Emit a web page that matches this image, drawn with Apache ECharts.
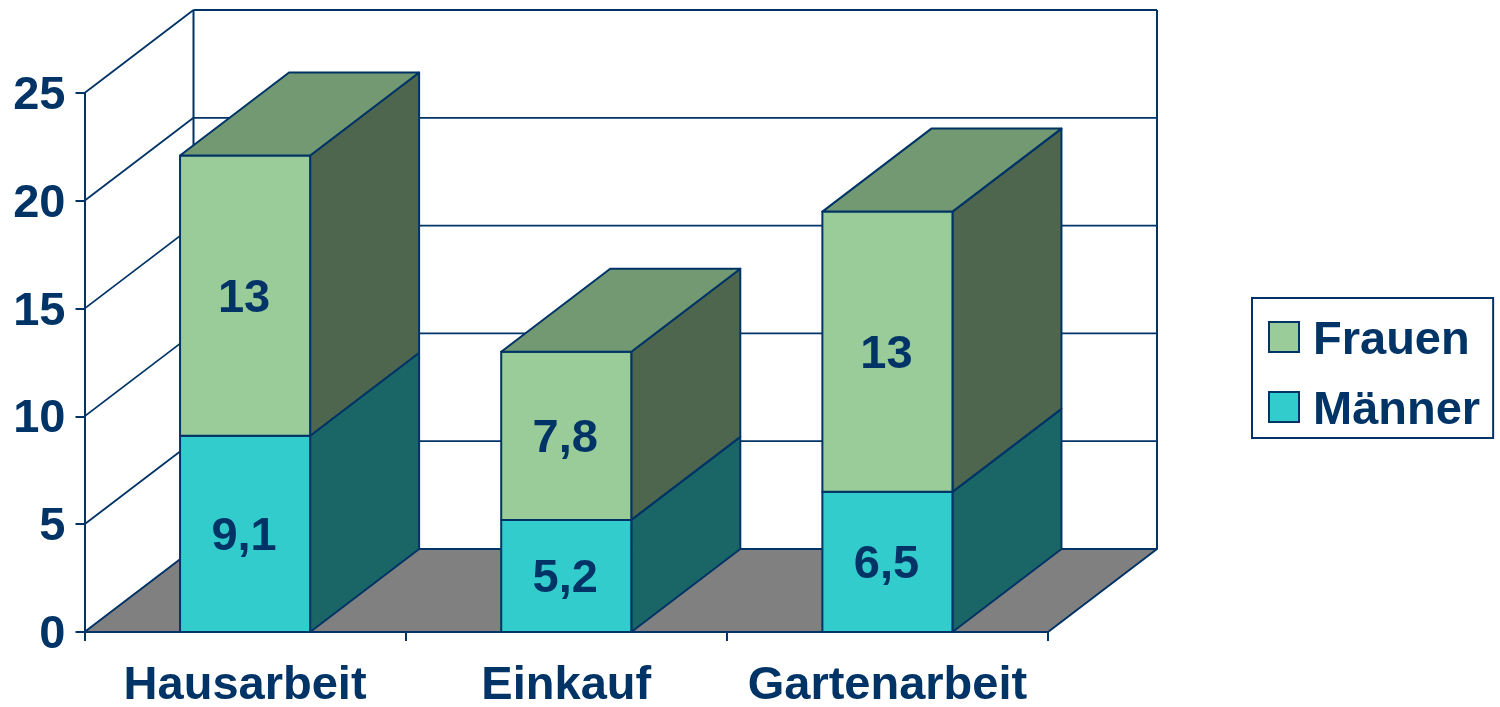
<!DOCTYPE html>
<html>
<head>
<meta charset="utf-8">
<style>
  html, body { margin: 0; padding: 0; background: #fff; }
  #chart { width: 1500px; height: 707px; }
</style>
<script src="https://cdn.jsdelivr.net/npm/echarts@6/dist/echarts.min.js"></script>
</head>
<body>
<div id="chart"></div>
<script>
const categories = ['Hausarbeit', 'Einkauf', 'Gartenarbeit'];
const maennerValues = [9.1, 5.2, 6.5];
const frauenValues = [13, 7.8, 13];
const yTicks = [0, 5, 10, 15, 20, 25];

const navy = '#003366';
const fontFamily = '"Liberation Sans", Arial, sans-serif';
// offset of the back plane, in pixels
const depthX = 109;
const depthY = 83;
const barRatio = 0.405;

const chart = echarts.init(document.getElementById('chart'));

function poly(points, fill, lineWidth) {
  return {
    type: 'polygon',
    shape: { points: points },
    style: { fill: fill, stroke: navy, lineWidth: lineWidth || 2, lineJoin: 'round' }
  };
}

function line(x1, y1, x2, y2, width) {
  return {
    type: 'line',
    shape: { x1: x1, y1: y1, x2: x2, y2: y2 },
    style: { stroke: navy, lineWidth: width, fill: null }
  };
}

// floor, walls and gridlines
function renderFrame(params, api) {
  const cs = params.coordSys;
  const left = cs.x;
  const right = cs.x + cs.width;
  const y = api.coord([0, api.value(0)])[1];
  const children = [];
  if (api.value(0) === 0) {
    children.push(poly([
      [left, y], [left + depthX, y - depthY],
      [right + depthX, y - depthY], [right, y]
    ], '#808080'));
    children.push(line(left + depthX, y - depthY, left + depthX, cs.y - depthY, 2));
    children.push(line(right + depthX, y - depthY, right + depthX, cs.y - depthY, 2));
  }
  if (api.value(0) !== 0) {
    children.push(line(left, y, left + depthX, y - depthY, 1.8));
    children.push(line(left + depthX, y - depthY, right + depthX, y - depthY, 1.8));
  }
  return { type: 'group', children: children };
}

function makeBarRenderer(front, side, top) {
  return function (params, api) {
    const bottomPt = api.coord([api.value(0), api.value(1)]);
    const topPt = api.coord([api.value(0), api.value(2)]);
    const w = api.size([1, 0])[0] * barRatio;
    const x0 = bottomPt[0] - w / 2;
    const x1 = bottomPt[0] + w / 2;
    const yb = bottomPt[1];
    const yt = topPt[1];
    const children = [
      poly([[x1, yb], [x1 + depthX, yb - depthY], [x1 + depthX, yt - depthY], [x1, yt]], side),
      poly([[x0, yb], [x1, yb], [x1, yt], [x0, yt]], front)
    ];
    if (top) {
      children.push(poly([[x0, yt], [x1, yt], [x1 + depthX, yt - depthY], [x0 + depthX, yt - depthY]], top));
    }
    children.push({
      type: 'text',
      style: {
        x: bottomPt[0] - 1,
        y: (yb + yt) / 2 + 3,
        text: String(api.value(3)).replace('.', ','),
        fill: navy,
        font: 'bold 47px ' + fontFamily,
        align: 'center',
        verticalAlign: 'middle'
      }
    });
    return { type: 'group', children: children };
  };
}

const labelFont = {
  color: navy,
  fontFamily: fontFamily,
  fontWeight: 'bold',
  fontSize: 47
};

const option = {
  animation: false,
  backgroundColor: '#fff',
  grid: { left: 84.5, right: 452, top: 93, bottom: 75, outerBoundsMode: 'none' },
  legend: {
    data: ['Frauen', 'Männer'],
    orient: 'vertical',
    left: 1252,
    top: 298,
    padding: [19.5, 13, 3.5, 16],
    itemGap: 23,
    itemWidth: 30,
    itemHeight: 30,
    icon: 'rect',
    borderColor: navy,
    borderWidth: 2,
    backgroundColor: '#fff',
    formatter: '{a|{name}}',
    textStyle: {
      ...labelFont,
      rich: { a: { ...labelFont, padding: [8, 0, 0, 9] } }
    }
  },
  xAxis: {
    type: 'category',
    data: categories,
    axisLine: { lineStyle: { color: navy, width: 2 } },
    axisTick: { show: true, interval: 0, length: 9, lineStyle: { color: navy, width: 2 } },
    axisLabel: { ...labelFont, interval: 0, margin: 31 }
  },
  yAxis: {
    type: 'value',
    min: 0,
    max: 25,
    interval: 5,
    splitLine: { show: false },
    axisLine: { show: true, lineStyle: { color: navy, width: 2 } },
    axisTick: { show: true, length: 9, lineStyle: { color: navy, width: 2 } },
    axisLabel: {
      ...labelFont,
      margin: 19,
      formatter: '{a|{value}}',
      rich: { a: { ...labelFont, padding: [6, 0, 0, 0] } }
    }
  },
  series: [
    {
      name: 'frame',
      type: 'custom',
      z: 1,
      silent: true,
      renderItem: renderFrame,
      encode: { y: 0 },
      data: yTicks.map(function (t) { return [t]; })
    },
    {
      name: 'Männer',
      type: 'custom',
      z: 2,
      itemStyle: { color: '#33CCCC', borderColor: navy, borderWidth: 2 },
      renderItem: makeBarRenderer('#33CCCC', '#1A6666', null),
      encode: { x: 0, y: [1, 2] },
      data: categories.map(function (c, i) {
        return [i, 0, maennerValues[i], maennerValues[i]];
      })
    },
    {
      name: 'Frauen',
      type: 'custom',
      z: 3,
      itemStyle: { color: '#99CC99', borderColor: navy, borderWidth: 2 },
      renderItem: makeBarRenderer('#99CC99', '#4D664D', '#739973'),
      encode: { x: 0, y: [1, 2] },
      data: categories.map(function (c, i) {
        return [i, maennerValues[i], maennerValues[i] + frauenValues[i], frauenValues[i]];
      })
    }
  ]
};

chart.setOption(option);
</script>
</body>
</html>
